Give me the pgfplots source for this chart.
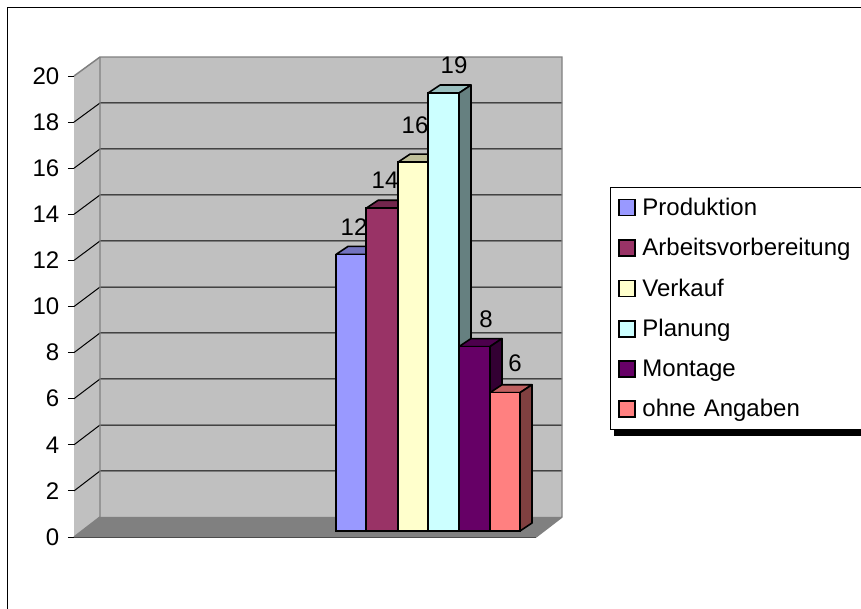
\documentclass[border=0pt]{standalone}
\usepackage{pgfplots}
\pgfplotsset{compat=1.18}
\usepackage{fontspec}
\setmainfont{Liberation Sans}
\definecolor{cA}{HTML}{9999FF}\definecolor{cAt}{HTML}{7373BF}\definecolor{cAs}{HTML}{4D4D80}
\definecolor{cB}{HTML}{993366}\definecolor{cBt}{HTML}{73264D}\definecolor{cBs}{HTML}{4D1933}
\definecolor{cC}{HTML}{FFFFCC}\definecolor{cCt}{HTML}{BFBF99}\definecolor{cCs}{HTML}{808066}
\definecolor{cD}{HTML}{CCFFFF}\definecolor{cDt}{HTML}{99BFBF}\definecolor{cDs}{HTML}{668080}
\definecolor{cE}{HTML}{660066}\definecolor{cEt}{HTML}{4D004D}\definecolor{cEs}{HTML}{330033}
\definecolor{cF}{HTML}{FF8080}\definecolor{cFt}{HTML}{BF6060}\definecolor{cFs}{HTML}{804040}
\definecolor{wall}{HTML}{C0C0C0}\definecolor{floorc}{HTML}{808080}
\pgfplotsset{
  face/.style={draw=black,line width=1.2pt,line join=round,forget plot},
  mybar/.style 2 args={ybar,bar shift=0pt,bar width=#1,draw=black,line width=1.2pt,fill=#2,
    area legend,
    legend image code/.code={\draw[draw=black,line width=1.2pt,fill=#2] (0pt,-6pt) rectangle (12pt,6pt);},
    nodes near coords},
  lab/.style 2 args={every node near coord/.style={anchor=center,xshift=#1,yshift=#2,font=\fontsize{18}{20}\selectfont,text=black,inner sep=0pt}},
  grid3d/.style={black,line width=.75pt,forget plot},
}
\begin{document}
\begin{tikzpicture}
\path[use as bounding box,clip] (0,0) rectangle (645.75pt,456pt);
\fill[white] (0,0) rectangle (645.75pt,456pt);
\draw[black,line width=.75pt] (5.5pt,-5pt) -- (5.5pt,450.5pt) -- (660pt,450.5pt);
% walls, floor and y axis: 0 at y pixel 537, 20 at y pixel 76
\begin{axis}[
  at={(55.5pt,53.25pt)},anchor=south west,
  scale only axis,width=366pt,height=345.75pt,
  xmin=74,xmax=562,ymin=0,ymax=20,
  axis x line=none,axis y line*=left,
  axis line style={black,line width=.75pt},
  clip=false,no markers,
  ytick={0,2,...,20},
  tick align=outside,major tick length=4.5pt,
  tick style={black,line width=.75pt},
  tick label style={font=\fontsize{18}{20}\selectfont,/pgf/number format/assume math mode=true},
  yticklabel style={xshift=-3pt},
]
\addplot[fill=wall,draw=none,forget plot] coordinates {(100,0.868)(562,0.868)(562,20.824)(100,20.824)(100,0.868)};
\addplot[fill=wall,draw=none,forget plot] coordinates {(74,0)(100,0.868)(100,20.824)(74,20)(74,0)};
\addplot[fill=floorc,draw=none,forget plot] coordinates {(74,0)(536,0)(562,0.868)(100,0.868)(74,0)};
\addplot[grid3d] coordinates {(74,2)(100,2.864)(562,2.864)};
\addplot[grid3d] coordinates {(74,4)(100,4.859)(562,4.859)};
\addplot[grid3d] coordinates {(74,6)(100,6.855)(562,6.855)};
\addplot[grid3d] coordinates {(74,8)(100,8.851)(562,8.851)};
\addplot[grid3d] coordinates {(74,10)(100,10.846)(562,10.846)};
\addplot[grid3d] coordinates {(74,12)(100,12.842)(562,12.842)};
\addplot[grid3d] coordinates {(74,14)(100,14.838)(562,14.838)};
\addplot[grid3d] coordinates {(74,16)(100,16.834)(562,16.834)};
\addplot[grid3d] coordinates {(74,18)(100,18.829)(562,18.829)};
\addplot[floorc,line width=1.1pt,forget plot] coordinates {(74,20)(100,20.824)(562,20.824)(562,0.868)(536,0)};
\addplot[floorc,line width=1.1pt,forget plot] coordinates {(100,20.824)(100,0.868)(74,0)};
\addplot[black!70,line width=.75pt,forget plot] coordinates {(74,0)(536,0)};
\end{axis}
% bars: 0 at y pixel 531, x in pixels
\begin{axis}[
  at={(0pt,0pt)},anchor=south west,
  scale only axis,width=645.75pt,height=456pt,
  xmin=0,xmax=861,ymin=-3.3406,ymax=23.0369,
  hide axis,clip=false,
  /pgf/number format/assume math mode=true,
  legend cell align=left,
  legend style={at={(610/861,421/608)},anchor=north west,draw=black,line width=.75pt,fill=white,
    font=\fontsize{18}{20}\selectfont,row sep=13.85pt,column sep=3.75pt,inner xsep=6pt,inner ysep=6.75pt,
    nodes={text width=170pt,inner sep=1pt}},
]
\addplot[fill=black,draw=none,forget plot] coordinates {(614,4.12)(880,4.12)(880,4.44)(614,4.44)};
% Produktion
\addplot[face,fill=cAt] coordinates {(336,12)(366,12)(378,12.347)(348,12.347)(336,12)};
\addplot[face,fill=cAs] coordinates {(366,0)(378,0.347)(378,12.347)(366,12)(366,0)};
\addplot[mybar={22.5pt}{cA},lab={2.25pt}{20.7pt}] coordinates {(351,12)};
\addlegendentry{Produktion}
% Arbeitsvorbereitung
\addplot[face,fill=cBt] coordinates {(366,14)(398,14)(410,14.347)(378,14.347)(366,14)};
\addplot[face,fill=cBs] coordinates {(398,0)(410,0.347)(410,14.347)(398,14)(398,0)};
\addplot[mybar={24pt}{cB},lab={2.25pt}{20.7pt}] coordinates {(382,14)};
\addlegendentry{Arbeitsvorbereitung}
% Verkauf
\addplot[face,fill=cCt] coordinates {(398,16)(428,16)(440,16.347)(410,16.347)(398,16)};
\addplot[face,fill=cCs] coordinates {(428,0)(440,0.347)(440,16.347)(428,16)(428,0)};
\addplot[mybar={22.5pt}{cC},lab={1.5pt}{27.75pt}] coordinates {(413,16)};
\addlegendentry{Verkauf}
% Planung
\addplot[face,fill=cDt] coordinates {(428,19)(459,19)(471,19.347)(440,19.347)(428,19)};
\addplot[face,fill=cDs] coordinates {(459,0)(471,0.347)(471,19.347)(459,19)(459,0)};
\addplot[mybar={23.25pt}{cD},lab={7.9pt}{21pt}] coordinates {(443.5,19)};
\addlegendentry{Planung}
% Montage
\addplot[face,fill=cEt] coordinates {(459,8)(490,8)(502,8.347)(471,8.347)(459,8)};
\addplot[face,fill=cEs] coordinates {(490,0)(502,0.347)(502,8.347)(490,8)(490,0)};
\addplot[mybar={23.25pt}{cE},lab={8.6pt}{20.7pt}] coordinates {(474.5,8)};
\addlegendentry{Montage}
% ohne Angaben
\addplot[face,fill=cFt] coordinates {(490,6)(520,6)(532,6.347)(502,6.347)(490,6)};
\addplot[face,fill=cFs] coordinates {(520,0)(532,0.347)(532,6.347)(520,6)(520,0)};
\addplot[mybar={22.5pt}{cF},lab={7.5pt}{22.3pt}] coordinates {(505,6)};
\addlegendentry{ohne Angaben}
\end{axis}
\end{tikzpicture}
\end{document}
